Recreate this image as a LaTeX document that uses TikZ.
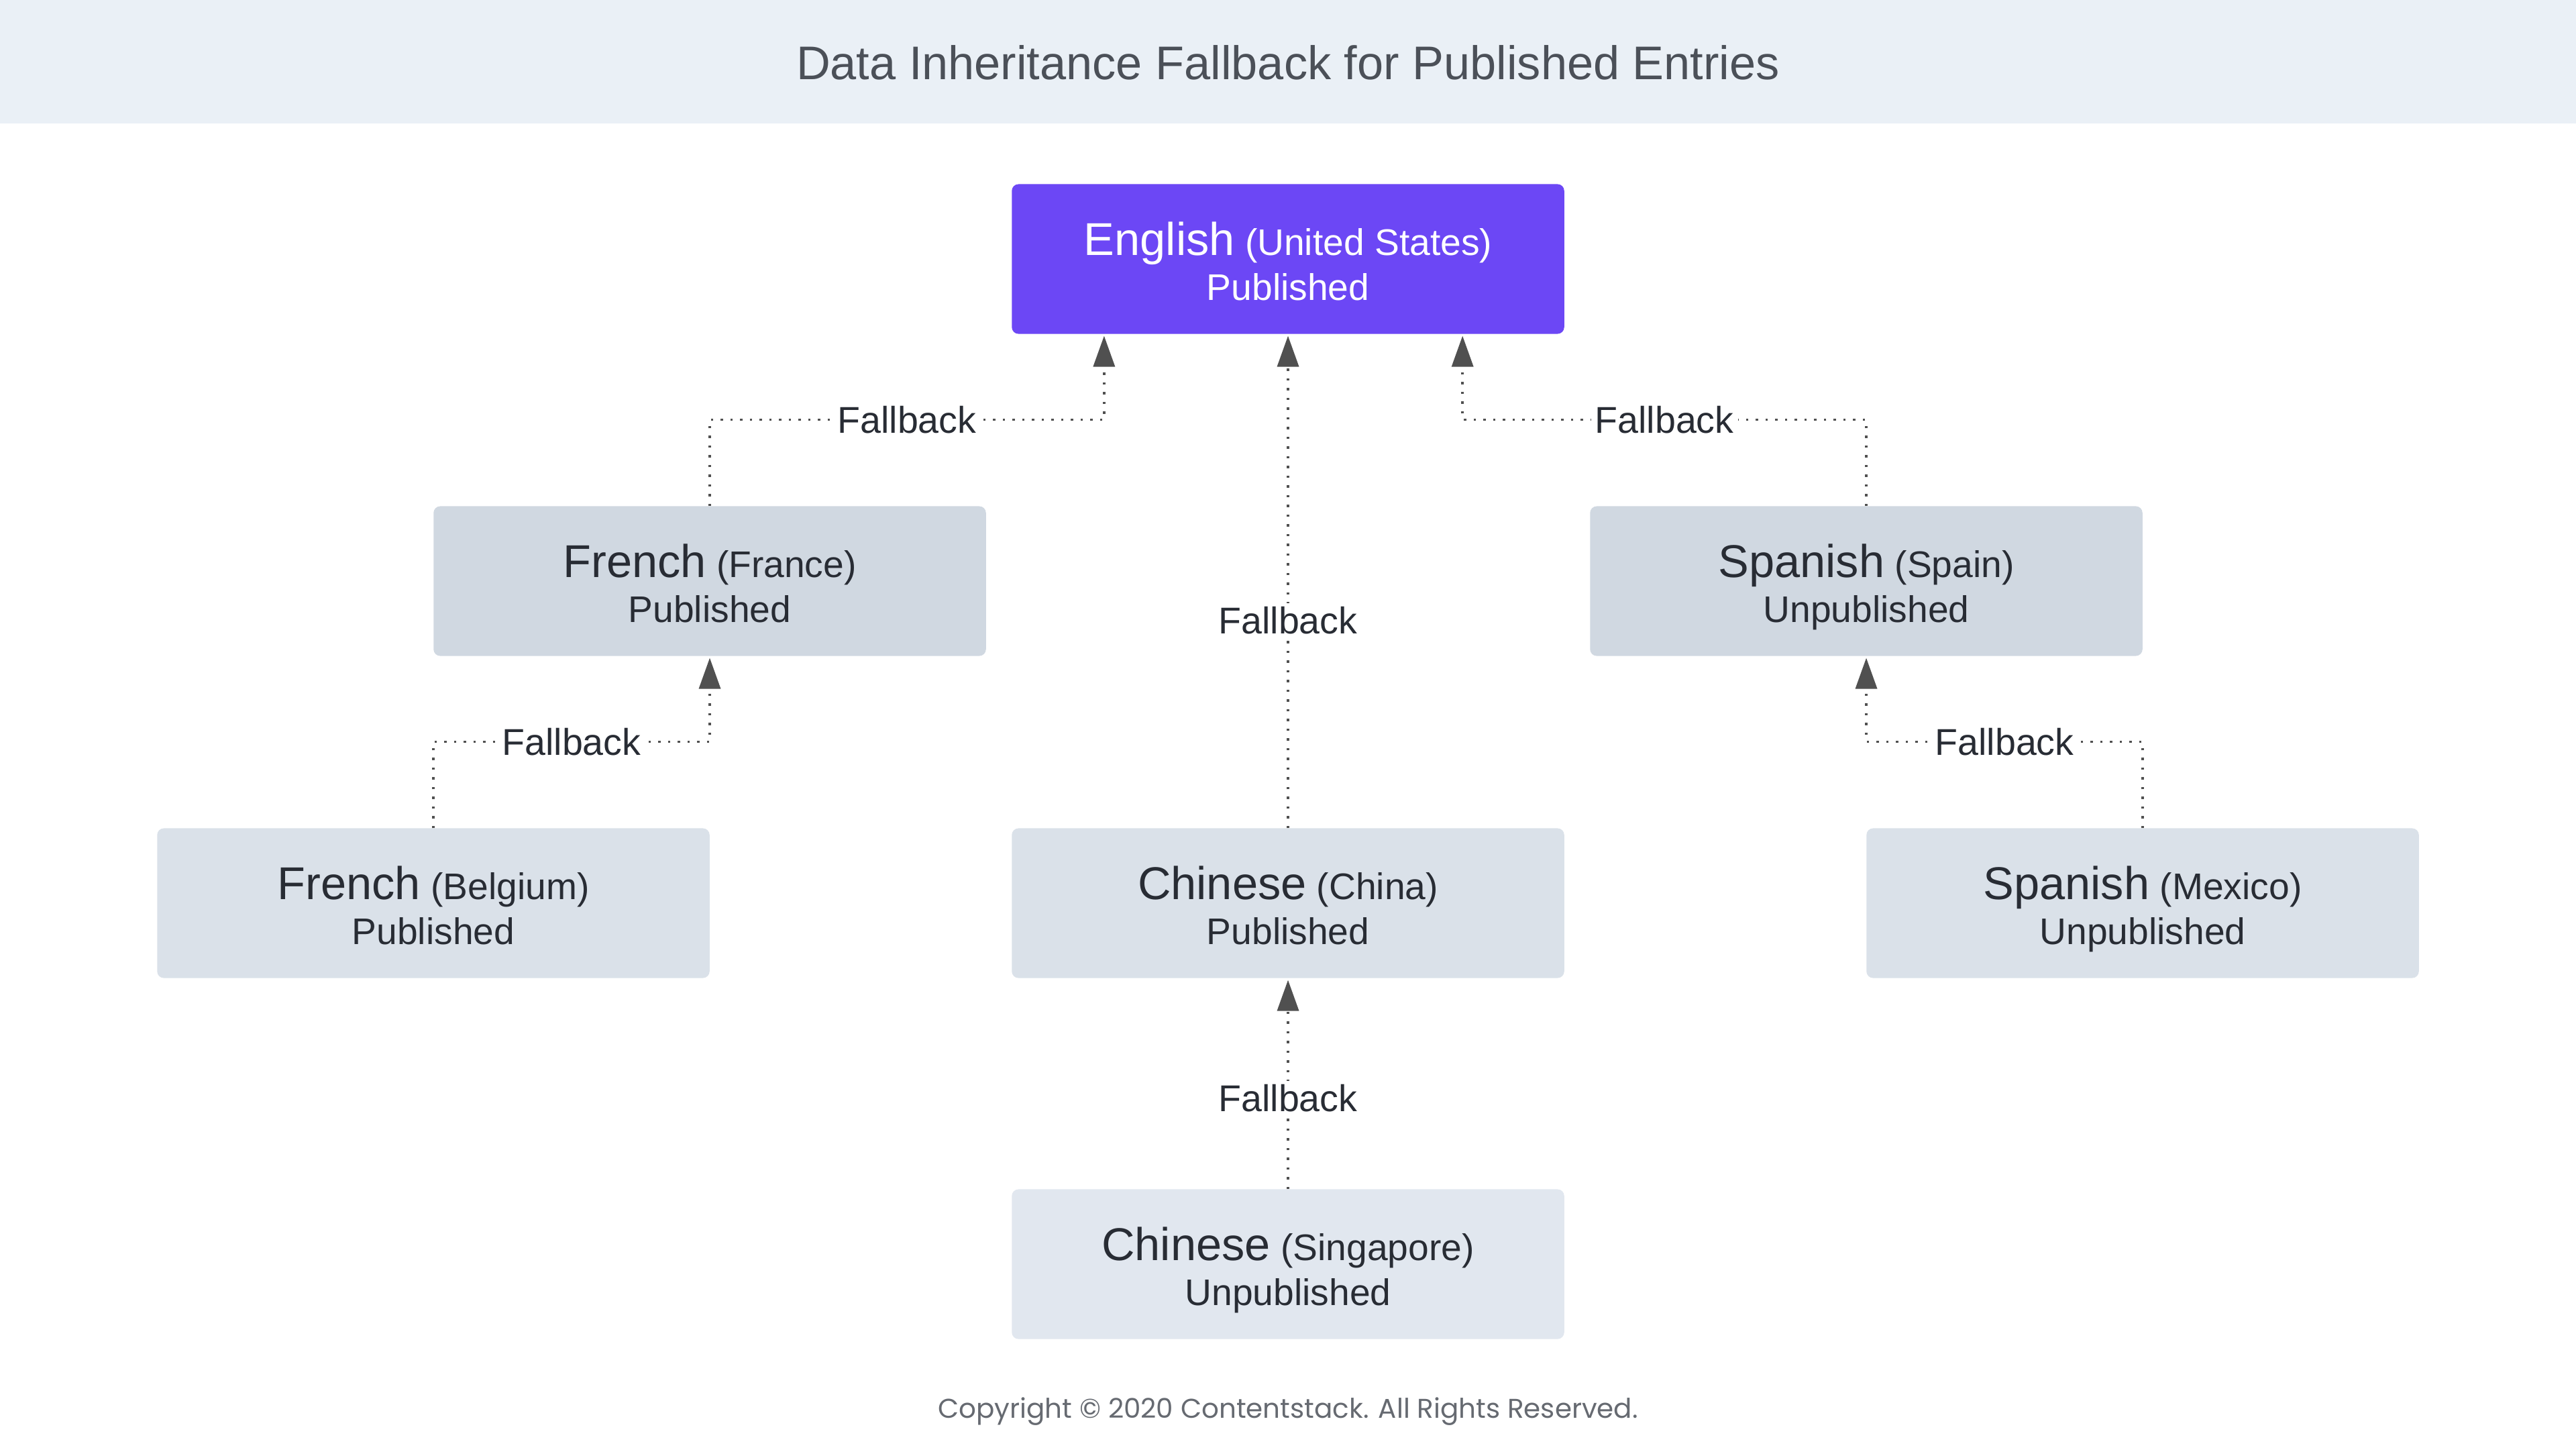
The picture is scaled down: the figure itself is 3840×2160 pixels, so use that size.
\documentclass[tikz,border=0pt]{standalone}
\usepackage{fontspec}
\setmainfont{Liberation Sans}
\newfontfamily\footfont{Poppins}
\usetikzlibrary{arrows.meta}

\definecolor{purplebox}{RGB}{108,71,245}
\definecolor{pubbox}{RGB}{208,216,225}
\definecolor{lightbox}{RGB}{218,225,233}
\definecolor{palebox}{RGB}{225,231,239}
\definecolor{bandgray}{RGB}{234,240,246}
\definecolor{inkgray}{RGB}{40,44,52}
\definecolor{titlegray}{RGB}{75,80,88}
\definecolor{linegray}{RGB}{80,80,80}

% first line: language (region), second line: state
\newcommand{\loclabel}[3]{\rule{0pt}{20pt}{\fontsize{19.5}{19}\selectfont #1} (#2)\\\rule[-4pt]{0pt}{4pt}#3}

\begin{document}
\begin{tikzpicture}[x=0.01cm, y=-0.01cm,
	locbox/.style={rectangle, rounded corners=0.1cm, minimum width=8.23cm, minimum height=2.23cm,
		outer sep=0pt, align=center, text=inkgray, font=\fontsize{15.7}{19}\selectfont},
	fallback/.style={draw=linegray, line width=0.035cm, dash pattern=on 0.035cm off 0.11cm,
		-{Triangle[length=0.46cm, width=0.32cm]}, shorten >=0.03cm},
	fblabel/.style={fill=white, inner sep=0.06cm, text=inkgray, font=\fontsize{15.8}{19}\selectfont}]

	% page and title band
	\fill[white] (0,0) rectangle (3840,2160);
	\fill[bandgray] (0,0) rectangle (3840,184);
	\node[text=titlegray, font=\fontsize{20}{24}\selectfont] (title) at (1920,93) {Data Inheritance Fallback for Published Entries};

	% locales
	\node[locbox, fill=purplebox, text=white] (enUS) at (1920,386) {\loclabel{English}{United States}{Published}};
	\node[locbox, fill=pubbox] (frFR) at (1058,866) {\loclabel{French}{France}{Published}};
	\node[locbox, fill=pubbox] (esES) at (2782,866) {\loclabel{Spanish}{Spain}{Unpublished}};
	\node[locbox, fill=lightbox] (frBE) at (646,1346) {\loclabel{French}{Belgium}{Published}};
	\node[locbox, fill=lightbox] (zhCN) at (1920,1346) {\loclabel{Chinese}{China}{Published}};
	\node[locbox, fill=lightbox] (esMX) at (3194,1346) {\loclabel{Spanish}{Mexico}{Unpublished}};
	\node[locbox, fill=palebox] (zhSG) at (1920,1884) {\loclabel{Chinese}{Singapore}{Unpublished}};

	\coordinate (enL) at ([xshift=-2.74cm]enUS.south);
	\coordinate (enR) at ([xshift=2.6cm]enUS.south);

	% fallback chains
	\draw[fallback] (frFR.north) -- ++(0,-129) -| node[pos=0.25, fblabel] {Fallback} (enL);
	\draw[fallback] (esES.north) -- ++(0,-129) -| node[pos=0.25, fblabel] {Fallback} (enR);
	\draw[fallback] (zhCN.north) -- node[pos=0.42, fblabel] {Fallback} (enUS.south);
	\draw[fallback] (frBE.north) -- ++(0,-129) -| node[pos=0.25, fblabel] {Fallback} (frFR.south);
	\draw[fallback] (esMX.north) -- ++(0,-129) -| node[pos=0.25, fblabel] {Fallback} (esES.south);
	\draw[fallback] (zhSG.north) -- node[pos=0.43, fblabel] {Fallback} (zhCN.south);

	\node[text=titlegray!85, font=\footfont\fontsize{11.5}{13}\selectfont] (copy) at (1920,2104) {Copyright © 2020 Contentstack. All Rights Reserved.};
\end{tikzpicture}
\end{document}
